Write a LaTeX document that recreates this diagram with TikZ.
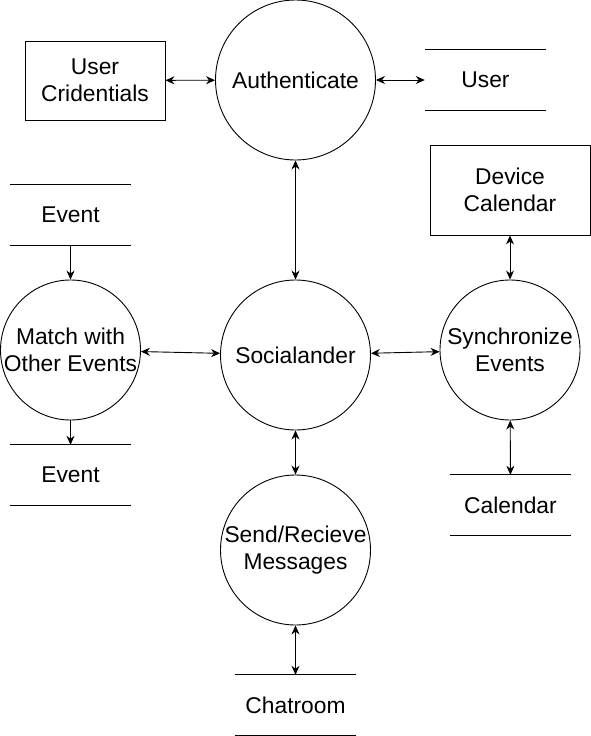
\documentclass[tikz,border=0pt]{standalone}
\usepackage{fontspec}
\setmainfont{Liberation Sans}
\usetikzlibrary{arrows.meta}

\begin{document}
\begin{tikzpicture}[
  x=1pt,y=-1pt,
  font=\fontsize{22.8}{27}\selectfont,
  process/.style={draw,circle,line width=.9pt,inner sep=0pt,align=center},
  entity/.style={draw,line width=.9pt,inner sep=0pt,align=center},
  store/.style={minimum width=121pt,minimum height=60pt,inner sep=0pt,align=center},
  flow/.style={{Stealth[length=9pt,width=8pt]}-{Stealth[length=9pt,width=8pt]},line width=.9pt},
  feed/.style={-{Stealth[length=9pt,width=8pt]},line width=.9pt}
]
  \useasboundingbox (0,0) rectangle (591,736);

  \node[process,minimum size=160pt] (auth) at (295.5,80) {Authenticate};
  \node[process,minimum size=150pt] (social) at (295.5,355) {Socialander};
  \node[process,minimum size=140pt] (match) at (70.5,350) {Match with\\Other Events};
  \node[process,minimum size=140pt] (sync) at (510,350) {Synchronize\\Events};
  \node[process,minimum size=150pt] (messages) at (295.5,550) {Send/Recieve\\Messages};

  \node[entity,minimum width=140pt,minimum height=79pt] (creds) at (95,80.5) {User\\Cridentials};
  \node[entity,minimum width=160pt,minimum height=90pt] (device) at (510,190) {Device\\Calendar};

  \node[store] (user) at (485.5,80) {User};
  \node[store] (eventin) at (70.5,215) {Event};
  \node[store] (eventout) at (70.5,475) {Event};
  \node[store] (calendar) at (510.5,505) {Calendar};
  \node[store] (chatroom) at (295.5,705) {Chatroom};

  \foreach \s in {user,eventin,eventout,calendar,chatroom}
    \draw[line width=.9pt] (\s.north west) -- (\s.north east) (\s.south west) -- (\s.south east);

  \draw[flow] (creds) -- (auth);
  \draw[flow] (auth) -- (user);
  \draw[flow] (auth) -- (social);
  \draw[feed] (eventin) -- (match);
  \draw[feed] (match) -- (eventout);
  \draw[flow] (match) -- (social);
  \draw[flow] (social) -- (sync);
  \draw[flow] (sync) -- (device);
  \draw[flow] (sync) -- (calendar);
  \draw[flow] (social) -- (messages);
  \draw[flow] (messages) -- (chatroom);
\end{tikzpicture}
\end{document}
